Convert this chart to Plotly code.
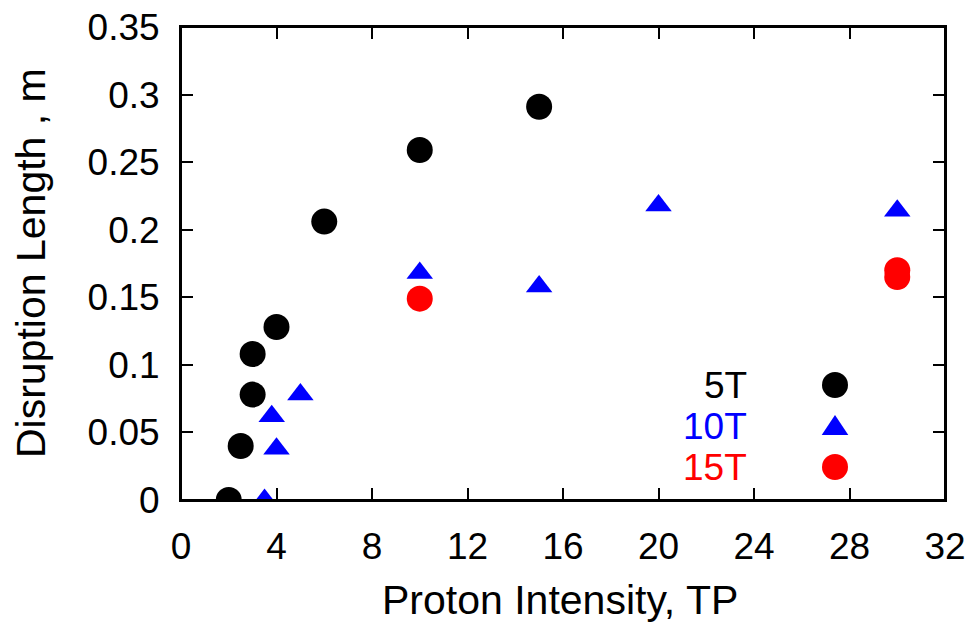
import plotly.graph_objects as go

# ---- data ----
x_5T = [2, 2.5, 3, 3, 4, 6, 10, 15]
y_5T = [0, 0.04, 0.078, 0.108, 0.128, 0.206, 0.259, 0.291]

x_10T = [3.5, 4, 3.8, 5, 10, 15, 20, 30]
y_10T = [0, 0.038, 0.062, 0.078, 0.168, 0.158, 0.218, 0.214]

x_15T = [10, 30, 30]
y_15T = [0.149, 0.17, 0.165]

series_names = ["5T", "10T", "15T"]
series_colors = ["black", "blue", "red"]

x_ticks = [0, 4, 8, 12, 16, 20, 24, 28, 32]
y_ticks = [0, 0.05, 0.1, 0.15, 0.2, 0.25, 0.3, 0.35]
y_tick_text = ["0", "0.05", "0.1", "0.15", "0.2", "0.25", "0.3", "0.35"]
X_RANGE = [0, 32]
Y_RANGE = [0, 0.35]

FONT = "Liberation Sans, Arial, sans-serif"
W, H = 978, 623
# plot area in window pixels: x 181..945, y 27..500
PL, PR, PT, PB = 181, 945, 27, 500
L, T, R, B = PL, PT, W - PR, H - PB
PW, PH = PR - PL, PB - PT


def px(xpix):
    return (xpix - PL) / PW


def py(ypix):
    return (PB - ypix) / PH


fig = go.Figure()
fig.add_trace(go.Scatter(x=x_5T, y=y_5T, mode="markers", name=series_names[0],
                         marker=dict(symbol="circle", size=26, color=series_colors[0])))
fig.add_trace(go.Scatter(x=x_10T, y=y_10T, mode="markers", name=series_names[1],
                         xaxis="x2",
                         marker=dict(symbol="triangle-up", size=23, color=series_colors[1])))
fig.add_trace(go.Scatter(x=x_15T, y=y_15T, mode="markers", name=series_names[2],
                         yaxis="y2",
                         marker=dict(symbol="circle", size=26, color=series_colors[2])))

tickfont = dict(family=FONT, size=37, color="black")

main_axis = dict(
    showline=True, linecolor="black", linewidth=2, mirror="ticks",
    ticks="inside", ticklen=12, tickwidth=2, tickcolor="black",
    showgrid=False, zeroline=False, showticklabels=False, automargin=False,
)
label_axis = dict(
    showline=False, ticks="outside", tickcolor="rgba(0,0,0,0)", tickwidth=1,
    showgrid=False, zeroline=False, showticklabels=True, automargin=False,
    ticklabeloverflow="allow", tickfont=tickfont,
)

fig.update_layout(
    xaxis=dict(range=X_RANGE, tickvals=x_ticks, **main_axis),
    yaxis=dict(range=Y_RANGE, tickvals=y_ticks, **main_axis),
    xaxis2=dict(range=X_RANGE, tickvals=x_ticks, ticktext=[str(v) for v in x_ticks],
                overlaying="x", anchor="y", side="bottom", ticklen=14, **label_axis),
    yaxis2=dict(range=Y_RANGE, tickvals=y_ticks, ticktext=y_tick_text,
                overlaying="y", anchor="x", side="left", ticklen=13, **label_axis),
)

annotations = [
    dict(text="Proton Intensity, TP", xref="paper", yref="paper", x=px(560), y=py(600),
         xanchor="center", yanchor="middle", showarrow=False,
         font=dict(family=FONT, size=41, color="black")),
    dict(text="Disruption Length , m", xref="paper", yref="paper", x=px(31), y=py(263),
         xanchor="center", yanchor="middle", textangle=-90, showarrow=False,
         font=dict(family=FONT, size=41, color="black")),
]

shapes = [dict(type="rect", xref="paper", yref="paper", x0=0, x1=1, y0=0, y1=1,
               line=dict(color="black", width=2), fillcolor="rgba(0,0,0,0)", layer="above")]

legend_rows = [385, 426, 467]
for name, color, yrow, sym in zip(series_names, series_colors, legend_rows,
                                  ["circle", "triangle", "circle"]):
    annotations.append(dict(text=name, xref="paper", yref="paper", x=px(749), y=py(yrow),
                            xanchor="right", yanchor="middle", showarrow=False,
                            font=dict(family=FONT, size=37, color=color)))
    if sym == "circle":
        shapes.append(dict(type="circle", xref="paper", yref="paper",
                           xsizemode="pixel", ysizemode="pixel",
                           xanchor=px(835), yanchor=py(yrow),
                           x0=-13, x1=13, y0=-13, y1=13,
                           fillcolor=color, line=dict(width=0)))
    else:
        shapes.append(dict(type="path", xref="paper", yref="paper",
                           xsizemode="pixel", ysizemode="pixel",
                           xanchor=px(835), yanchor=py(yrow),
                           path="M -13.3 -9 L 13.3 -9 L 0 11 Z",
                           fillcolor=color, line=dict(width=0)))

fig.update_layout(
    width=W, height=H,
    margin=dict(l=L, r=R, t=T, b=B, pad=0, autoexpand=False),
    paper_bgcolor="white", plot_bgcolor="white",
    showlegend=False,
    annotations=annotations, shapes=shapes,
)

fig.write_html(
    "out.html",
    config={"displayModeBar": False},
    post_script="document.body.style.margin='0';document.body.style.overflow='hidden';",
)
